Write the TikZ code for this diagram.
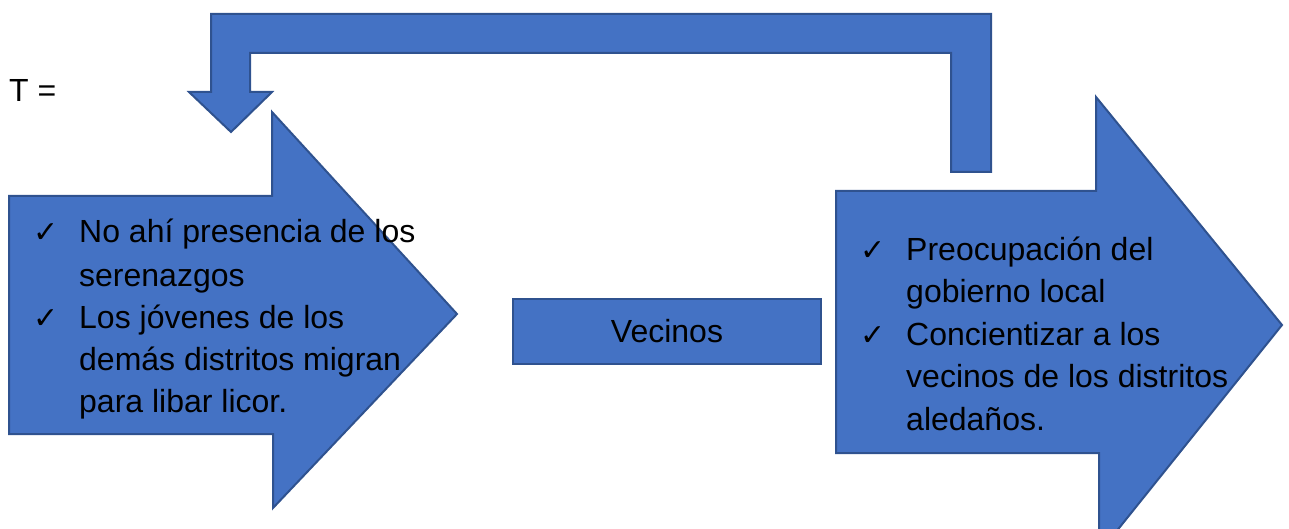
\documentclass[tikz,border=0pt]{standalone}
\usepackage{fontspec}
\setmainfont{Liberation Sans}
\newfontfamily\symfont{DejaVu Sans}
\definecolor{shapeblue}{HTML}{4472C4}
\definecolor{edgeblue}{HTML}{2F528F}
\begin{document}
\begin{tikzpicture}[x=1pt,y=-1pt,
  blockshape/.style={fill=shapeblue,draw=edgeblue,line width=2pt,line join=miter},
  txt/.style={inner sep=0pt,anchor=base west,font=\fontsize{32}{42.5}\selectfont},
  tick/.style={inner sep=0pt,anchor=base west,font=\symfont\fontsize{30}{30}\selectfont}]
\useasboundingbox (0,0) rectangle (1289,529);
\clip (0,0) rectangle (1289,529);

% feedback arrow running back over the top
\draw[blockshape] (951,172) -- (951,53) -- (250,53) -- (250,92) -- (272,92)
  -- (231,132) -- (189,92) -- (211,92) -- (211,14) -- (991,14) -- (991,172) -- cycle;

% left block arrow
\draw[blockshape] (9,196) -- (272,196) -- (272,112) -- (457,314) -- (273,508)
  -- (273,434) -- (9,434) -- cycle;

% right block arrow
\draw[blockshape] (836,191) -- (1096,191) -- (1096,97) -- (1282,325) -- (1099,553)
  -- (1099,453) -- (836,453) -- cycle;

% middle box
\node[blockshape,minimum width=308pt,minimum height=65pt,inner sep=0pt,
  font=\fontsize{32}{38}\selectfont] (vecinos) at (667,331.5) {Vecinos};

% label at the top left
\node[txt] (tlabel) at (9,102) {T =};

% items of the left arrow
\node[tick] (lt1) at (33,243) {✓};
\node[txt] (l1a) at (79,243) {No ahí presencia de los};
\node[txt] (l1b) at (79,286) {serenazgos};
\node[tick] (lt2) at (33,328) {✓};
\node[txt] (l2a) at (79,328) {Los jóvenes de los};
\node[txt] (l2b) at (79,370) {demás distritos migran};
\node[txt] (l2c) at (79,412) {para libar licor.};

% items of the right arrow
\node[tick] (rt1) at (860,260) {✓};
\node[txt] (r1a) at (906,260) {Preocupación del};
\node[txt] (r1b) at (906,302) {gobierno local};
\node[tick] (rt2) at (860,345) {✓};
\node[txt] (r2a) at (906,345) {Concientizar a los};
\node[txt] (r2b) at (906,387) {vecinos de los distritos};
\node[txt] (r2c) at (906,430) {aledaños.};
\end{tikzpicture}
\end{document}
